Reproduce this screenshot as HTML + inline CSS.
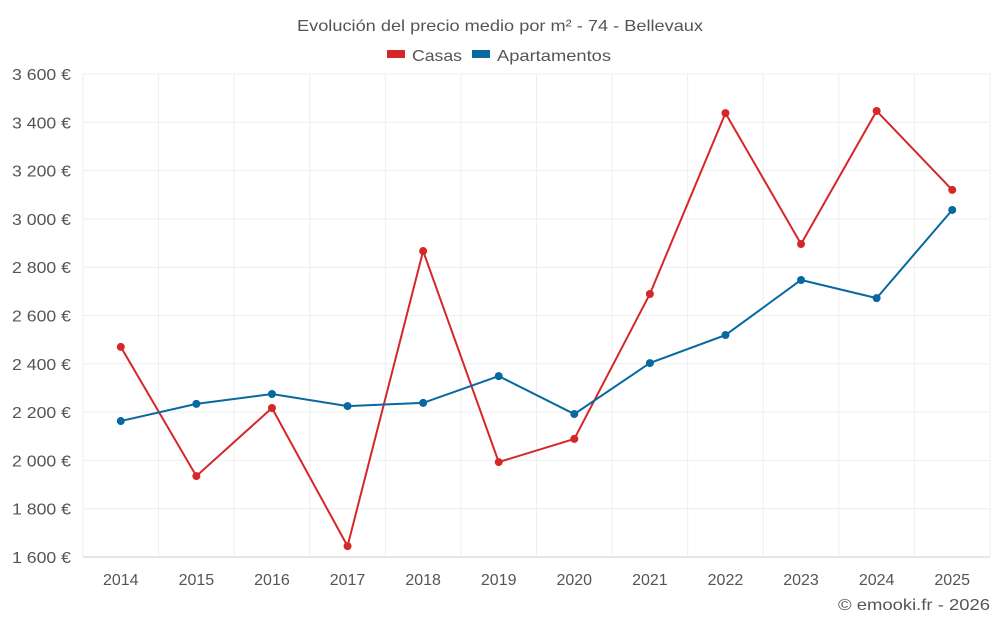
<!DOCTYPE html>
<html><head><meta charset="utf-8"><style>
body{margin:0;background:#fff;font-family:"Liberation Sans",sans-serif}
svg text{font-family:"Liberation Sans",sans-serif;fill:#555}
</style></head><body>
<svg id="c" width="1000" height="625">
<text x="297" y="31" font-size="16" textLength="406" lengthAdjust="spacingAndGlyphs">Evolución del precio medio por m² - 74 - Bellevaux</text>
<g>
<g><rect x="387" y="50" width="18" height="8" fill="#d62728"/><text x="412" y="61" font-size="16" textLength="50" lengthAdjust="spacingAndGlyphs">Casas</text></g>
<g><rect x="472" y="50" width="18" height="8" fill="#0868a0"/><text x="497" y="61" font-size="16" textLength="114" lengthAdjust="spacingAndGlyphs">Apartamentos</text></g>
</g>
<g id="grid"></g>
<g id="axes"></g>
<g id="series"></g>
<text x="838" y="610" font-size="16" textLength="152" lengthAdjust="spacingAndGlyphs">© emooki.fr - 2026</text>
</svg>
<script>
const years=["2014","2015","2016","2017","2018","2019","2020","2021","2022","2023","2024","2025"];
const casas=[2470,1935,2217,1645,2867,1993,2089,2689,3438,2896,3447,3120];
const apartamentos=[2163,2234,2275,2225,2238,2349,2192,2403,2519,2747,2672,3037];
const yTicks=[1600,1800,2000,2200,2400,2600,2800,3000,3200,3400,3600];
const yTickLabels=["1 600 €","1 800 €","2 000 €","2 200 €","2 400 €","2 600 €","2 800 €","3 000 €","3 200 €","3 400 €","3 600 €"];
const L=83,R=990,T=74,B=557,NS="http://www.w3.org/2000/svg";
const step=(R-L)/years.length;
const x=i=>L+step*(i+0.5);
const y=v=>B-(v-1600)/(3600-1600)*(B-T);
function mk(p,tag,a){const e=document.createElementNS(NS,tag);for(const k in a)e.setAttribute(k,a[k]);p.appendChild(e);return e;}
const g=document.getElementById('grid'),ax=document.getElementById('axes'),s=document.getElementById('series');
yTicks.forEach((v,i)=>{
 const l=mk(g,'line',{x1:L,x2:R,y1:y(v),y2:y(v),stroke:i==0?'#ccc':'#eee'});
 
 
 const t=mk(ax,'text',{x:12,y:y(v)+6,'font-size':16,textLength:59,lengthAdjust:'spacingAndGlyphs'});
 t.textContent=yTickLabels[i];
 
 
});
for(let i=0;i<=years.length;i++){
 const l=mk(g,'line',{x1:L+step*i,x2:L+step*i,y1:T,y2:B,stroke:'#eee'});
 
 
}
years.forEach((yr,i)=>{
 const t=mk(ax,'text',{x:x(i),y:585,'text-anchor':'middle','font-size':16});
 t.textContent=yr;
 
 
});
function draw(vals,color,name){
 const p=mk(s,'polyline',{points:vals.map((v,i)=>x(i)+','+y(v)).join(' '),fill:'none',stroke:color,'stroke-width':2});
 
 
 vals.forEach((v,i)=>{
  const c=mk(s,'circle',{cx:x(i),cy:y(v),r:4,fill:color});
  
  
 });
}
draw(casas,'#d62728','casas');
draw(apartamentos,'#0868a0','apartamentos');
</script>
</body></html>
